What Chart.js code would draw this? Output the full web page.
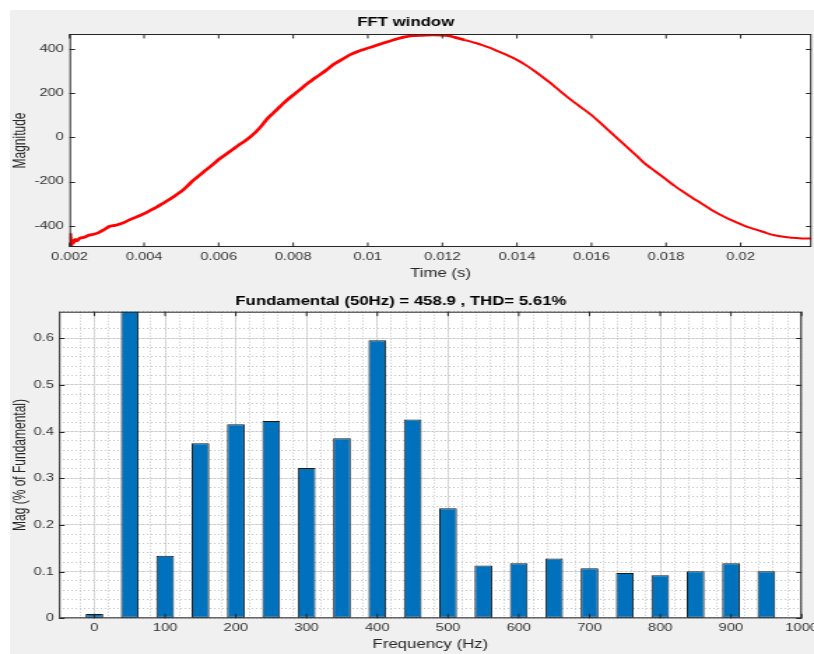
<!DOCTYPE html>
<html>
<head>
<meta charset="utf-8">
<script src="https://cdn.jsdelivr.net/npm/chart.js@4.4.0/dist/chart.umd.min.js"></script>
<style>
    html, body { margin: 0; padding: 0; background: #ffffff; }
    body { width: 814px; height: 654px; position: relative; overflow: hidden; font-family: "Liberation Sans", Arial, sans-serif; }
    #panel { position: absolute; left: 10px; top: 10px; width: 804px; height: 644px; background: #f0f0f0; }
    /* the reference figure is stretched horizontally, so draw narrow and scale */
    .stretch { position: absolute; left: 0; width: 582px; transform: scaleX(1.3986); transform-origin: 0 0; }
    #topWrap { top: 0; height: 285px; }
    #botWrap { top: 285px; height: 369px; }
</style>
</head>
<body>
<div id="panel"></div>
<div class="stretch" id="topWrap"><canvas id="fftWindow"></canvas></div>
<div class="stretch" id="botWrap"><canvas id="spectrum"></canvas></div>

<script>
// FFT window signal
const timeS = [
    0.00200, 0.00202, 0.00204, 0.00207, 0.00210, 0.00215, 0.00220, 0.00228, 0.00240, 0.00250,
    0.00265, 0.00277, 0.00292, 0.00308, 0.00322, 0.00335, 0.00350, 0.00362, 0.00380, 0.00400,
    0.00415, 0.00433, 0.00450, 0.00469, 0.00485, 0.00504, 0.00518, 0.00531, 0.00550, 0.00567,
    0.00585, 0.00600, 0.00620, 0.00638, 0.00655, 0.00674, 0.00688, 0.00701, 0.00715, 0.00728,
    0.00745, 0.00763, 0.00780, 0.00800, 0.00818, 0.00835, 0.00853, 0.00871, 0.00890, 0.00906,
    0.00930, 0.00951, 0.00975, 0.01000, 0.01020, 0.01040, 0.01063, 0.01085, 0.01100, 0.01120,
    0.01140, 0.01156, 0.01175, 0.01196, 0.01216, 0.01240, 0.01260, 0.01283, 0.01305, 0.01330,
    0.01350, 0.01375, 0.01400, 0.01425, 0.01449, 0.01473, 0.01497, 0.01520, 0.01546, 0.01573,
    0.01600, 0.01623, 0.01645, 0.01670, 0.01694, 0.01720, 0.01743, 0.01770, 0.01797, 0.01820,
    0.01846, 0.01870, 0.01895, 0.01920, 0.01948, 0.01972, 0.01997, 0.02020, 0.02046, 0.02070,
    0.02091, 0.02115, 0.02136, 0.02165, 0.02190
];
const magnitude = [
    -470, -438, -494, -466, -478, -462, -468, -456, -452, -444,
    -438, -432, -418, -402, -398, -392, -382, -372, -360, -345,
    -332, -316, -299, -280, -262, -239, -217, -196, -170, -146,
    -122, -100, -76, -54, -33, -12, 7, 27, 52, 80,
    108, 137, 164, 192, 216, 240, 262, 283, 306, 328,
    352, 373, 390, 404, 415, 426, 438, 449, 455, 460,
    462, 463, 464, 463, 460, 450, 441, 430, 419, 404,
    389, 371, 351, 326, 298, 268, 237, 204, 169, 135,
    101, 67, 33, -5, -42, -81, -118, -152, -186, -216,
    -246, -273, -299, -326, -352, -372, -390, -406, -420, -433,
    -443, -450, -454, -457, -458
];
const timeTicks = [0.002, 0.004, 0.006, 0.008, 0.01, 0.012, 0.014, 0.016, 0.018, 0.02];
const magTicks = [-400, -200, 0, 200, 400];

// Harmonic spectrum
const freqHz = [0, 50, 100, 150, 200, 250, 300, 350, 400, 450, 500, 550, 600, 650, 700, 750, 800, 850, 900, 950];
const harmonicMag = [0.009, 100, 0.134, 0.375, 0.416, 0.423, 0.322, 0.386, 0.596, 0.426,
                     0.236, 0.113, 0.118, 0.128, 0.107, 0.097, 0.092, 0.101, 0.118, 0.101];
const freqTicks = [0, 100, 200, 300, 400, 500, 600, 700, 800, 900, 1000];
const pctTicks = [0, 0.1, 0.2, 0.3, 0.4, 0.5, 0.6];

const FONT = '"Liberation Sans", Arial, sans-serif';
Chart.defaults.font.family = FONT;

// white plot box, black frame and inward tick marks like MATLAB axes
const matlabFrame = {
    id: 'matlabFrame',
    beforeDraw(chart) {
        const { ctx, chartArea: a } = chart;
        ctx.save();
        ctx.fillStyle = '#ffffff';
        ctx.fillRect(a.left, a.top, a.right - a.left, a.bottom - a.top);
        ctx.restore();
    },
    afterDatasetsDraw(chart) {
        const { ctx, chartArea: a, scales } = chart;
        const x = scales.x, y = scales.y;
        ctx.save();
        ctx.strokeStyle = '#262626';
        ctx.lineWidth = 1;
        ctx.beginPath();
        x.ticks.forEach(t => {
            const px = x.getPixelForValue(t.value);
            ctx.moveTo(px, a.bottom); ctx.lineTo(px, a.bottom - 4.5);
            ctx.moveTo(px, a.top); ctx.lineTo(px, a.top + 4.5);
        });
        y.ticks.forEach(t => {
            const py = Math.round(y.getPixelForValue(t.value)) + 0.5;
            ctx.moveTo(a.left, py); ctx.lineTo(a.left + 4, py);
            ctx.moveTo(a.right, py); ctx.lineTo(a.right - 4, py);
        });
        ctx.stroke();
        ctx.strokeRect(a.left + 0.5, a.top + 0.5, a.right - a.left - 1, a.bottom - a.top - 1);
        ctx.restore();
    }
};

// fixed axis sizes; edge labels may hang past the plot box as in MATLAB
const fixHeight = h => s => { s.height = h; s.paddingLeft = 0; s.paddingRight = 0; };
const fixWidth = w => s => { s.width = w; s.paddingTop = 0; s.paddingBottom = 0; };

const tickFont = { size: 10.5 };
const labelFont = { size: 12 };

new Chart(document.getElementById('fftWindow'), {
    type: 'line',
    data: {
        datasets: [{
            data: timeS.map((t, i) => ({ x: t, y: magnitude[i] })),
            borderColor: '#ff0000',
            borderWidth: 2,
            pointRadius: 0,
            tension: 0.2,
            // rising half is noisier, so it reads as a thicker trace
            segment: { borderWidth: c => c.p0.parsed.x < 0.0125 ? 2.7 : 2 }
        }]
    },
    options: {
        responsive: true,
        maintainAspectRatio: false,
        animation: false,
        layout: { padding: { left: 0, right: 1.8, top: 0, bottom: 0 } },
        plugins: {
            legend: { display: false },
            tooltip: { enabled: false },
            title: {
                display: true,
                text: 'FFT window',
                color: '#000000',
                font: { size: 12, weight: 'bold' },
                padding: { top: 15.3, bottom: 4.3 }
            }
        },
        scales: {
            x: {
                type: 'linear',
                min: 0.002,
                max: 0.0219,
                afterBuildTicks: s => { s.ticks = timeTicks.map(v => ({ value: v })); },
                afterFit: fixHeight(38),
                grid: { display: false, drawTicks: false },
                border: { display: false },
                ticks: { autoSkip: false, maxRotation: 0, padding: 4, color: '#333333', font: tickFont, callback: v => String(v) },
                title: { display: true, text: 'Time (s)', color: '#262626', font: labelFont, padding: { top: 0, bottom: 3.8 } }
            },
            y: {
                min: -496,
                max: 468,
                afterBuildTicks: s => { s.ticks = magTicks.map(v => ({ value: v })); },
                afterFit: fixWidth(49.7),
                grid: { display: false, drawTicks: false },
                border: { display: false },
                ticks: { padding: 4, color: '#333333', font: tickFont, callback: v => String(v) },
                title: { display: true, text: 'Magnitude', color: '#262626', font: labelFont, padding: { top: 7.1, bottom: 0 } }
            }
        }
    },
    plugins: [matlabFrame]
});

new Chart(document.getElementById('spectrum'), {
    type: 'bar',
    data: {
        datasets: [{
            data: freqHz.map((f, i) => ({ x: f, y: harmonicMag[i] })),
            backgroundColor: '#0072bd',
            borderColor: '#1a1a1a',
            borderWidth: 1,
            borderSkipped: false,
            barPercentage: 0.5,
            categoryPercentage: 1
        }]
    },
    options: {
        responsive: true,
        maintainAspectRatio: false,
        animation: false,
        layout: { padding: { left: 0, right: 8.8, top: 0, bottom: 0 } },
        plugins: {
            legend: { display: false },
            tooltip: { enabled: false },
            title: {
                display: true,
                text: 'Fundamental (50Hz) = 458.9 , THD= 5.61%',
                color: '#000000',
                font: { size: 12, weight: 'bold' },
                padding: { top: 9.3, bottom: 3.0 }
            }
        },
        scales: {
            x: {
                type: 'linear',
                min: -50,
                max: 1000,
                offset: false,
                afterBuildTicks: s => { s.ticks = freqTicks.map(v => ({ value: v })); },
                afterFit: fixHeight(35.7),
                grid: { color: '#dedede', drawTicks: false, offset: false },
                border: { display: false },
                ticks: { autoSkip: false, maxRotation: 0, padding: 4, color: '#333333', font: tickFont, callback: v => String(v) },
                title: { display: true, text: 'Frequency (Hz)', color: '#262626', font: labelFont, padding: { top: 0, bottom: 1.8 } }
            },
            xMinor: {
                type: 'linear',
                position: 'bottom',
                min: -50,
                max: 1000,
                offset: false,
                afterFit: fixHeight(0),
                ticks: { display: false, stepSize: 20 },
                grid: { color: '#c4c4c4', drawTicks: false, offset: false },
                border: { display: false, dash: [1, 2] }
            },
            y: {
                min: 0,
                max: 0.657,
                afterBuildTicks: s => { s.ticks = pctTicks.map(v => ({ value: v })); },
                afterFit: fixWidth(42.2),
                grid: { color: '#dedede', drawTicks: false },
                border: { display: false },
                ticks: { padding: 3.6, color: '#333333', font: tickFont, callback: v => String(v) },
                title: { display: true, text: 'Mag (% of Fundamental)', color: '#262626', font: labelFont, padding: { top: 7.1, bottom: 0 } }
            },
            yMinor: {
                position: 'left',
                min: 0,
                max: 0.657,
                afterFit: fixWidth(0),
                ticks: { display: false, stepSize: 0.02 },
                grid: { color: '#c4c4c4', drawTicks: false },
                border: { display: false, dash: [1, 2] }
            }
        }
    },
    plugins: [matlabFrame]
});
</script>
</body>
</html>
